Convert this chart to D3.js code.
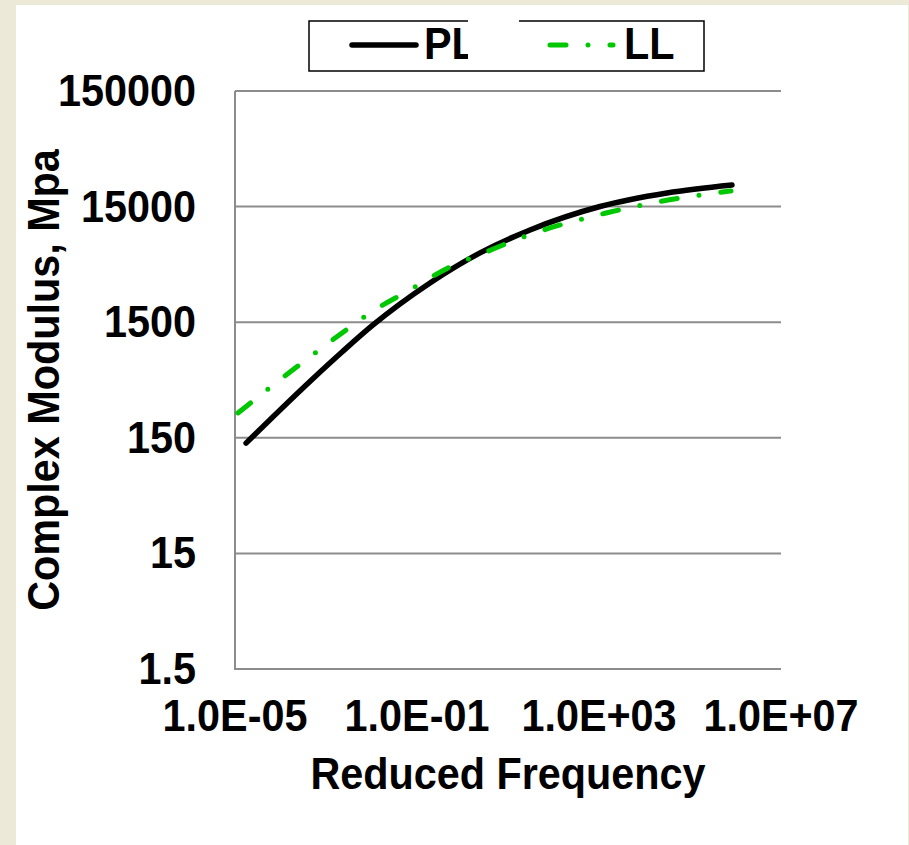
<!DOCTYPE html>
<html>
<head>
<meta charset="utf-8">
<script src="https://cdn.jsdelivr.net/npm/d3@7"></script>
<style>
  html, body { margin: 0; padding: 0; background: #ECE9D8; }
  svg { display: block; }
  text { font-family: "Liberation Sans", Arial, sans-serif; font-weight: bold; fill: #000; }
</style>
</head>
<body>
<svg id="chart" width="909" height="845"></svg>
<script>
// ---- data ----
const freqPL = [1.75e-5, 4.68e-4, 2.25e-3, 1.08e-2, 0.193, 2.43, 30.5, 1052, 31260, 8.37e5];
const modPL  = [135, 470, 828, 1419, 3275, 5960, 9420, 15030, 19680, 23070];
const freqLL = [1.16e-5, 1.62e-4, 2.25e-3, 1.08e-2, 0.0634, 0.48, 3.28, 21.4, 1426, 32800, 7.96e5];
const modLL  = [246, 556, 1210, 1875, 2790, 4420, 6070, 8180, 13200, 17100, 20470];
const xTicks = [1e-5, 1e-1, 1e3, 1e7];
const xTickLabels = ["1.0E-05", "1.0E-01", "1.0E+03", "1.0E+07"];
const yTicks = [1.5, 15, 150, 1500, 15000, 150000];
const yTickLabels = ["1.5", "15", "150", "1500", "15000", "150000"];
const seriesNames = ["PL", "LL"];
const xTitle = "Reduced Frequency";
const yTitle = "Complex Modulus, Mpa";

// ---- layout ----
const svg = d3.select("#chart");
const plot = { left: 235, right: 781, top: 91, bottom: 669 };
const FS = 44, SX = 0.94;
const gridColor = "#8c8c8c";

svg.append("rect").attr("x", 16).attr("y", 5).attr("width", 892).attr("height", 840).attr("fill", "#fff");

const x = d3.scaleLog().domain([1e-5, 1e7]).range([plot.left, plot.right]);
const y = d3.scaleLog().domain([1.5, 150000]).range([plot.bottom, plot.top]);

function label(px, py, txt, anchor, rot) {
  return svg.append("text")
    .attr("transform", `translate(${px},${py}) rotate(${rot || 0}) scale(${SX},1)`)
    .attr("text-anchor", anchor)
    .style("font-size", FS + "px")
    .text(txt);
}

// gridlines
svg.append("g").selectAll("line").data(yTicks).join("line")
  .attr("x1", plot.left).attr("x2", plot.right)
  .attr("y1", d => y(d)).attr("y2", d => y(d))
  .attr("stroke", gridColor).attr("stroke-width", 2);

// axes lines
svg.append("line").attr("x1", plot.left).attr("x2", plot.left)
  .attr("y1", plot.top).attr("y2", plot.bottom + 1)
  .attr("stroke", gridColor).attr("stroke-width", 2);
svg.append("line").attr("x1", plot.left - 1).attr("x2", plot.right)
  .attr("y1", plot.bottom).attr("y2", plot.bottom)
  .attr("stroke", gridColor).attr("stroke-width", 2);

// tick labels
yTicks.forEach((t, i) => label(196, y(t) + 15, yTickLabels[i], "end"));
xTicks.forEach((t, i) => label(x(t), 731, xTickLabels[i], "middle"));

// titles
label((plot.left + plot.right) / 2, 789, xTitle, "middle");
label(59, (plot.top + plot.bottom) / 2, yTitle, "middle", -90);

// series
const line = d3.line().x(d => x(d[0])).y(d => y(d[1])).curve(d3.curveMonotoneX);
const dataPL = freqPL.map((f, i) => [f, modPL[i]]);
const dataLL = freqLL.map((f, i) => [f, modLL[i]]);

svg.append("path").attr("d", line(dataPL)).attr("fill", "none")
  .attr("stroke", "#000").attr("stroke-width", 5.5).attr("stroke-linecap", "round");
svg.append("path").attr("d", line(dataLL)).attr("fill", "none")
  .attr("stroke", "#00c800").attr("stroke-width", 5).attr("stroke-linecap", "round")
  .attr("stroke-dasharray", "16 22 0 22");

// legend
const lg = svg.append("g");
lg.append("rect").attr("x", 309).attr("y", 21).attr("width", 395).attr("height", 50)
  .attr("fill", "#fff").attr("stroke", "#000").attr("stroke-width", 1.5);
lg.append("line").attr("x1", 352).attr("x2", 416).attr("y1", 45).attr("y2", 45)
  .attr("stroke", "#000").attr("stroke-width", 5.5).attr("stroke-linecap", "round");
label(424, 59, seriesNames[0], "start");
lg.append("line").attr("x1", 550).attr("x2", 613).attr("y1", 45).attr("y2", 45)
  .attr("stroke", "#00c800").attr("stroke-width", 5).attr("stroke-linecap", "round")
  .attr("stroke-dasharray", "16 22 0 22");
label(624, 59, seriesNames[1], "start");
svg.append("rect").attr("x", 468).attr("y", 14).attr("width", 51).attr("height", 55).attr("fill", "#fff");
</script>
</body>
</html>
